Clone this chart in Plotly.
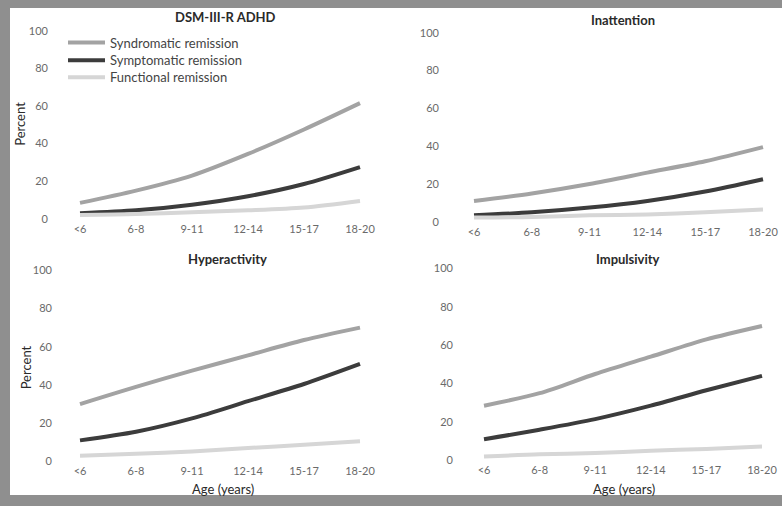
import plotly.graph_objects as go

W, H = 782, 506

ages = ["<6", "6-8", "9-11", "12-14", "15-17", "18-20"]
series_names = ["Syndromatic remission", "Symptomatic remission", "Functional remission"]

# DSM-III-R ADHD
adhd_syndromatic = [8.5, 15, 23, 34.5, 47.5, 61.5]
adhd_symptomatic = [3, 4.5, 7.5, 12, 18.5, 27.5]
adhd_functional = [2, 2.5, 3.5, 4.5, 6, 9.5]

# Inattention
inatt_syndromatic = [11, 15, 20, 26, 32, 39.5]
inatt_symptomatic = [3.5, 5, 7.5, 11, 16, 22.5]
inatt_functional = [2.3, 2.6, 3.4, 3.9, 5, 6.5]

# Hyperactivity
hyper_syndromatic = [30, 39, 47.5, 55.5, 63.5, 70]
hyper_symptomatic = [11, 15.5, 22.5, 31.5, 40.5, 51]
hyper_functional = [3, 4, 5.2, 7, 8.7, 10.5]

# Impulsivity
impul_syndromatic = [28.5, 35, 45, 54, 63, 70]
impul_symptomatic = [11, 16, 21.5, 28.5, 36.5, 44]
impul_functional = [2, 3.2, 3.8, 5, 6, 7.2]

panel_titles = ["DSM-III-R ADHD", "Inattention", "Hyperactivity", "Impulsivity"]
y_ticks = [0, 20, 40, 60, 80, 100]

panels = [
    (adhd_syndromatic, adhd_symptomatic, adhd_functional),
    (inatt_syndromatic, inatt_symptomatic, inatt_functional),
    (hyper_syndromatic, hyper_symptomatic, hyper_functional),
    (impul_syndromatic, impul_symptomatic, impul_functional),
]

colors = ["#a3a3a3", "#3c3c3c", "#d6d6d6"]

# pixel geometry per panel: (x_bg_left, x_bg_right, x_tick0, x_tick5, y_bg_top, y_bg_bottom, y_0, y_100)
geom = [
    (53, 380, 80, 360, 24, 222, 220, 30),
    (444, 782, 474, 763, 26, 225, 223, 32),
    (57, 383, 80, 360, 266, 467, 465, 272),
    (458, 782, 484, 762, 264, 466, 464, 270),
]

fig = go.Figure()
layout = {}
annotations = []
font_family = "Lato, Open Sans, sans-serif"
legend_ids = ["legend", "legend2", "legend3"]
legend_rows = [42, 60, 77]

for i, (vals, g) in enumerate(zip(panels, geom)):
    xl, xr, x0, x5, yt, yb, y0, y100 = g
    sx = (x5 - x0) / 5.0
    sy = (y0 - y100) / 100.0
    xrange = [(xl - x0) / sx, (xr - x0) / sx]
    yrange = [-(yb - y0) / sy, 100 + (y100 - yt) / sy]
    n = "" if i == 0 else str(i + 1)
    for j, v in enumerate(vals):
        fig.add_trace(go.Scatter(
            x=ages, y=v, mode="lines", name=series_names[j],
            line=dict(color=colors[j], width=4, shape="spline", smoothing=0.8),
            showlegend=(i == 0), legend=legend_ids[j],
            xaxis="x" + n, yaxis="y" + n,
        ))
    layout["xaxis" + n] = dict(
        domain=[xl / W, xr / W], range=xrange, type="category",
        anchor="y" + n, showgrid=False, zeroline=False, showline=False,
        ticks="", tickfont=dict(size=11, color="#6a6a6a", family=font_family),
        fixedrange=True,
    )
    layout["yaxis" + n] = dict(
        domain=[1 - yb / H, 1 - yt / H], range=yrange,
        anchor="x" + n, showgrid=False, zeroline=False, showline=False,
        tickvals=y_ticks, ticks="", ticklabelstandoff=4,
        tickfont=dict(size=11, color="#6a6a6a", family=font_family),
        fixedrange=True,
    )

for lid, row in zip(legend_ids, legend_rows):
    layout[lid] = dict(
        x=63 / W, y=1 - row / H, xanchor="left", yanchor="middle",
        bgcolor="rgba(0,0,0,0)", font=dict(size=13, color="#444444", family=font_family),
        itemwidth=37,
    )

title_pos = [(225, 16), (623, 19), (227, 261), (628, 261)]
for t, (cx, cy) in zip(panel_titles, title_pos):
    annotations.append(dict(
        text="<b>" + t + "</b>", x=cx / W, y=1 - cy / H, xref="paper", yref="paper",
        xanchor="center", yanchor="middle", showarrow=False,
        font=dict(size=13, color="#2a2a2a", family=font_family),
    ))

for cx, cy in [(223, 493), (624, 493)]:
    annotations.append(dict(
        text="Age (years)", x=cx / W, y=1 - cy / H, xref="paper", yref="paper",
        xanchor="center", yanchor="middle", showarrow=False,
        font=dict(size=13, color="#2a2a2a", family=font_family),
    ))

for cx, cy in [(20, 124), (26, 370)]:
    annotations.append(dict(
        text="Percent", x=cx / W, y=1 - cy / H, xref="paper", yref="paper",
        xanchor="center", yanchor="middle", showarrow=False, textangle=-90,
        font=dict(size=13, color="#2a2a2a", family=font_family),
    ))

fig.update_layout(
    width=W, height=H,
    margin=dict(l=0, r=0, t=0, b=0),
    paper_bgcolor="#8f8f8f",
    plot_bgcolor="#f4f4f4",
    showlegend=True,
    annotations=annotations,
    shapes=[dict(type="rect", xref="paper", yref="paper", x0=10 / W, x1=1.0,
                 y0=1 - 499 / H, y1=1 - 7 / H, fillcolor="white", line=dict(width=0),
                 layer="below")],
    **layout,
)

fig.write_html(
    "out.html",
    config={"displayModeBar": False},
    post_script="document.body.style.margin='0';document.body.style.padding='0';",
)
